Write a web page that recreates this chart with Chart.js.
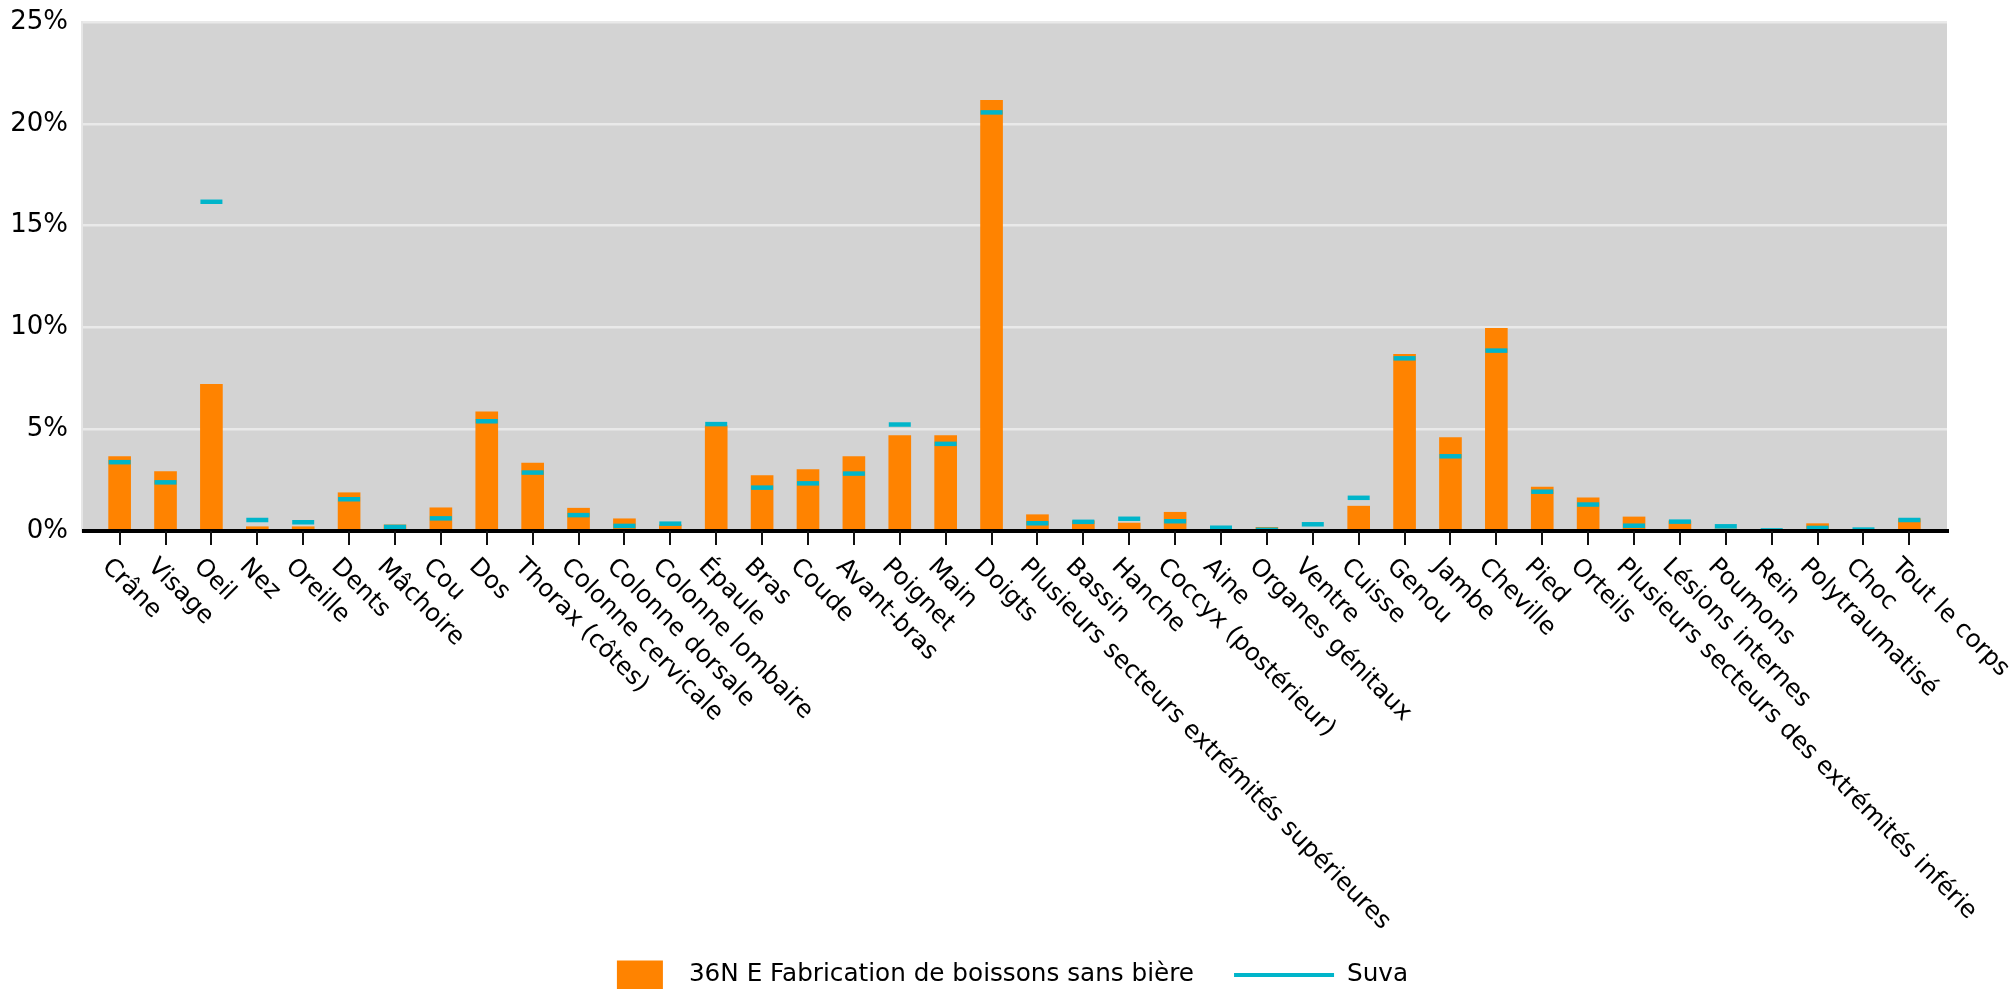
<!DOCTYPE html>
<html lang="fr">
<head>
<meta charset="UTF-8">
<title>Parties du corps lésées</title>
<script src="https://cdn.jsdelivr.net/npm/chart.js@4/dist/chart.umd.min.js"></script>
<style>
  body { margin: 0; padding: 0; background: #fff; }
  canvas { display: block; }
</style>
</head>
<body>
<canvas id="chart" width="2011" height="989"></canvas>
<script>
  // parties du corps (axe x)
  var categories = [
    'Crâne', 'Visage', 'Oeil', 'Nez', 'Oreille', 'Dents', 'Mâchoire', 'Cou', 'Dos',
    'Thorax (côtes)', 'Colonne cervicale', 'Colonne dorsale', 'Colonne lombaire',
    'Épaule', 'Bras', 'Coude', 'Avant-bras', 'Poignet', 'Main', 'Doigts',
    'Plusieurs secteurs extrémités supérieures', 'Bassin', 'Hanche',
    'Coccyx (postérieur)', 'Aine', 'Organes génitaux', 'Ventre', 'Cuisse', 'Genou',
    'Jambe', 'Cheville', 'Pied', 'Orteils',
    'Plusieurs secteurs des extrémités inférie', 'Lésions internes', 'Poumons',
    'Rein', 'Polytraumatisé', 'Choc', 'Tout le corps'
  ];

  // part en % - branche 36N E
  var brancheValues = [
    3.65, 2.92, 7.2, 0.21, 0.21, 1.88, 0.3, 1.14, 5.85,
    3.34, 1.12, 0.6, 0.3,
    5.16, 2.72, 3.02, 3.66, 4.69, 4.69, 21.15,
    0.8, 0.5, 0.39,
    0.92, 0.06, 0.18, 0.07, 1.22, 8.68,
    4.59, 9.95, 2.16, 1.63,
    0.69, 0.5, 0.1,
    0.02, 0.36, 0.02, 0.6
  ];

  // part en % - Suva (ensemble)
  var suvaValues = [
    3.38, 2.39, 16.17, 0.54, 0.43, 1.56, 0.2, 0.62, 5.39,
    2.87, 0.78, 0.25, 0.36,
    5.25, 2.13, 2.34, 2.82, 5.23, 4.28, 20.56,
    0.38, 0.45, 0.6,
    0.48, 0.16, 0.06, 0.33, 1.63, 8.48,
    3.67, 8.86, 1.93, 1.3,
    0.26, 0.46, 0.23,
    0.03, 0.15, 0.07, 0.54
  ];

  var yTicks = [0, 5, 10, 15, 20, 25];

  var ORANGE = '#ff8300';
  var CYAN = '#00b5ca';
  var FONT = '"DejaVu Sans", Verdana, sans-serif';

  var decorPlugin = {
    id: 'decor',
    beforeDraw: function(chart) {
      var a = chart.chartArea, ctx = chart.ctx;
      ctx.save();
      ctx.fillStyle = '#d3d3d3';
      ctx.fillRect(a.left, a.top, a.right - a.left, a.bottom - a.top);
      ctx.restore();
    },
    afterDatasetsDraw: function(chart) {
      var a = chart.chartArea, ctx = chart.ctx;
      var xs = chart.scales.x, y0 = chart.scales.y.getPixelForValue(0);
      ctx.save();
      ctx.strokeStyle = '#000';
      ctx.lineWidth = 4;
      ctx.beginPath();
      ctx.moveTo(a.left, y0);
      ctx.lineTo(a.right + 2, y0);
      ctx.stroke();
      ctx.lineWidth = 2;
      ctx.strokeStyle = '#111';
      categories.forEach(function(c, i) {
        var x = Math.round(xs.getPixelForValue(i));
        ctx.beginPath();
        ctx.moveTo(x, y0);
        ctx.lineTo(x, y0 + 14);
        ctx.stroke();
      });
      ctx.restore();
    },
    afterDraw: function(chart) {
      var ctx = chart.ctx, xs = chart.scales.x;
      var y0 = chart.scales.y.getPixelForValue(0);
      ctx.save();
      ctx.fillStyle = '#000';
      ctx.font = '24.5px ' + FONT;
      ctx.textAlign = 'left';
      ctx.textBaseline = 'middle';
      categories.forEach(function(c, i) {
        var x = xs.getPixelForValue(i);
        ctx.save();
        ctx.translate(x - 14, y0 + 32);
        ctx.rotate(Math.PI / 4);
        ctx.fillText(c, 0, 0);
        ctx.restore();
      });

      // légende
      ctx.font = '24.7px ' + FONT;
      var ds = chart.data.datasets;
      var boxW = 46, boxH = 29, lineW = 100, gap = 26, itemGap = 40, gap2 = 13;
      var t1 = ctx.measureText(ds[0].label).width;
      var t2 = ctx.measureText(ds[1].label).width;
      var total = boxW + gap + t1 + itemGap + lineW + gap2 + t2;
      var lx = chart.width / 2 + 7 - total / 2;
      var ly = 975;
      ctx.fillStyle = ORANGE;
      ctx.fillRect(lx, ly - boxH / 2, boxW, boxH);
      ctx.fillStyle = '#000';
      ctx.fillText(ds[0].label, lx + boxW + gap, ly);
      var sx = lx + boxW + gap + t1 + itemGap;
      ctx.strokeStyle = CYAN;
      ctx.lineWidth = 4;
      ctx.beginPath();
      ctx.moveTo(sx, ly);
      ctx.lineTo(sx + lineW, ly);
      ctx.stroke();
      ctx.fillText(ds[1].label, sx + lineW + gap2, ly);
      ctx.restore();
    }
  };

  var ctx = document.getElementById('chart').getContext('2d');
  var chart = new Chart(ctx, {
    data: {
      datasets: [
        {
          type: 'bar',
          label: '36N E Fabrication de boissons sans bière',
          data: categories.map(function(c, i) { return { x: i, y: brancheValues[i] }; }),
          backgroundColor: ORANGE,
          barThickness: 22,
          order: 1
        },
        {
          type: 'line',
          label: 'Suva',
          data: categories.map(function(c, i) { return { x: i, y: suvaValues[i] }; }),
          showLine: false,
          pointStyle: 'line',
          pointRadius: 11,
          pointHoverRadius: 11,
          pointBorderWidth: 4.5,
          pointBorderColor: CYAN,
          pointBackgroundColor: CYAN,
          borderColor: CYAN,
          order: 0
        }
      ]
    },
    options: {
      responsive: false,
      devicePixelRatio: 1,
      animation: false,
      layout: { padding: { top: 22, right: 64, bottom: 0, left: 0 } },
      plugins: {
        legend: { display: false },
        tooltip: { enabled: false }
      },
      scales: {
        x: {
          type: 'linear',
          offset: false,
          min: -0.82,
          max: categories.length - 1 + 0.82,
          grid: { display: false },
          border: { display: false },
          ticks: { display: false, stepSize: 1, includeBounds: false },
          afterFit: function(scale) { scale.height = 458; }
        },
        y: {
          min: 0,
          max: 25,
          afterBuildTicks: function(scale) {
            scale.ticks = yTicks.map(function(v) { return { value: v }; });
          },
          grid: { color: '#e9e9e9', lineWidth: 2.5, drawTicks: false },
          border: { display: true, color: '#e6e6e6', width: 2 },
          ticks: {
            padding: 14,
            color: '#000',
            font: { family: FONT, size: 26 },
            callback: function(v) { return v + '%'; }
          },
          afterFit: function(scale) {
            scale.width = 82;
            scale.paddingTop = 0;
            scale.paddingBottom = 0;
          }
        }
      }
    },
    plugins: [decorPlugin]
  });
</script>
</body>
</html>
